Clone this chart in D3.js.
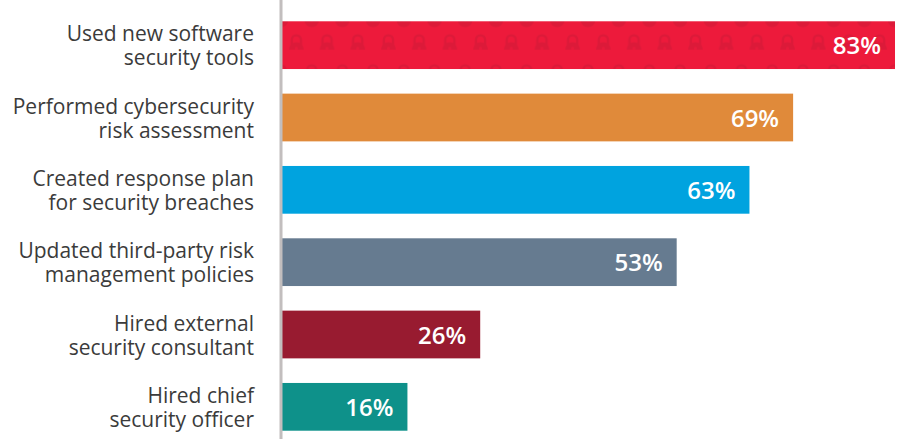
<!DOCTYPE html>
<html>
<head>
<meta charset="utf-8">
<script src="https://cdn.jsdelivr.net/npm/d3@7"></script>
<style>
  body { margin: 0; background: #fff; }
  svg { display: block; }
</style>
</head>
<body>
<script>
const categories = [
  ['Used new software', 'security tools'],
  ['Performed cybersecurity', 'risk assessment'],
  ['Created response plan', 'for security breaches'],
  ['Updated third-party risk', 'management policies'],
  ['Hired external', 'security consultant'],
  ['Hired chief', 'security officer']
]
const values = [83, 69, 63, 53, 26, 16]
const colors = ['#ED1A3B', '#E08A3A', '#00A3DF', '#667B90', '#981B30', '#0E918A']

const width = 897
const height = 439
const axisX = 281

const svg = d3.select('body').append('svg')
  .attr('width', width)
  .attr('height', height)

// padlock pattern for the first bar
const defs = svg.append('defs')
const pat = defs.append('pattern')
  .attr('id', 'locks')
  .attr('patternUnits', 'userSpaceOnUse')
  .attr('x', 311.7 - 30.7)
  .attr('y', 19.7 - 30)
  .attr('width', 30.7)
  .attr('height', 60)
pat.append('rect').attr('width', 30.7).attr('height', 60).attr('fill', colors[0])

const lockSpots = [[0, 0], [30.7, 0], [15.35, 30], [0, 60], [30.7, 60]]
pat.selectAll('g.lock')
  .data(lockSpots)
  .enter().append('g')
  .classed('lock', true)
  .attr('transform', d => `translate(${d[0]},${d[1] + 30})`)
  .each(function() {
    const g = d3.select(this)
    g.append('path')
      .attr('d', 'M-4.6,-4 L-4.6,-9.8 A4.6,4.6 0 0 1 4.6,-9.8 L4.6,-4')
      .attr('fill', 'none')
      .attr('stroke', '#DC1A39')
      .attr('stroke-width', 2.4)
    g.append('circle').attr('r', 7.4).attr('fill', '#DC1A39')
    g.append('path')
      .attr('d', 'M-1.2,-0.6 A1.5,1.5 0 1 1 1.2,-0.6 L0,2.8 Z')
      .attr('fill', '#E81A3B')
  })

const y = d3.scaleBand()
  .domain(d3.range(values.length))
  .range([9, 443])
  .paddingInner(0.34)
  .paddingOuter(0.17)

const x = d3.scaleLinear()
  .domain([0, 83])
  .range([axisX + 10, 895])

svg.selectAll('rect.bar')
  .data(values)
  .enter().append('rect')
  .classed('bar', true)
  .attr('x', axisX)
  .attr('y', (d, i) => y(i))
  .attr('width', d => x(d) - axisX)
  .attr('height', y.bandwidth())
  .attr('fill', (d, i) => i === 0 ? 'url(#locks)' : colors[i])

svg.append('line')
  .attr('x1', axisX).attr('x2', axisX)
  .attr('y1', 0).attr('y2', height)
  .attr('stroke', '#C2BEBE')
  .attr('stroke-width', 3)

svg.selectAll('text.value')
  .data(values)
  .enter().append('text')
  .classed('value', true)
  .attr('x', d => x(d) - 14)
  .attr('y', (d, i) => y(i) + y.bandwidth() / 2 + 9)
  .attr('text-anchor', 'end')
  .attr('font-family', 'Open Sans')
  .attr('font-weight', 600)
  .attr('font-size', 24)
  .attr('fill', '#fff')
  .text(d => d + '%')

svg.selectAll('text.cat')
  .data(categories)
  .enter().append('text')
  .classed('cat', true)
  .attr('text-anchor', 'end')
  .attr('font-family', 'Open Sans')
  .attr('font-size', 21)
  .attr('fill', '#3b3b3b')
  .selectAll('tspan')
  .data((d, i) => d.map((t, j) => ({ t, j, i })))
  .enter().append('tspan')
  .attr('x', 254)
  .attr('y', d => y(d.i) + y.bandwidth() / 2 - 4 + d.j * 24)
  .text(d => d.t)
</script>
</body>
</html>
